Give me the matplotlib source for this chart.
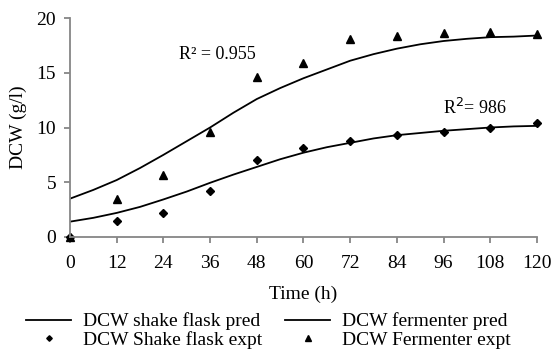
import matplotlib
matplotlib.use("Agg")
import matplotlib.pyplot as plt

plt.rcParams['font.family'] = ['Liberation Serif', 'DejaVu Serif']

# experimental points (12 h sampling)
t_expt = [0, 12, 24, 36, 48, 60, 72, 84, 96, 108, 120]
shake_expt = [0.0, 1.5, 2.2, 4.2, 7.0, 8.1, 8.8, 9.3, 9.6, 10.0, 10.4]
ferm_expt = [0.0, 3.5, 5.7, 9.6, 14.6, 15.9, 18.1, 18.4, 18.6, 18.7, 18.5]

# model curves every 6 h
t_pred = [0, 6, 12, 18, 24, 30, 36, 42, 48, 54, 60,
          66, 72, 78, 84, 90, 96, 102, 108, 114, 120]
shake_pred = [1.4, 1.75, 2.2, 2.75, 3.43, 4.15, 4.95, 5.7, 6.4, 7.1, 7.7,
              8.2, 8.6, 9.0, 9.3, 9.5, 9.7, 9.85, 10.0, 10.1, 10.15]
ferm_pred = [3.5, 4.3, 5.2, 6.3, 7.5, 8.75, 10.0, 11.35, 12.6, 13.6, 14.5,
             15.3, 16.1, 16.7, 17.2, 17.6, 17.9, 18.1, 18.25, 18.3, 18.4]

x_ticks = list(range(0, 121, 12))
y_ticks = [0, 5, 10, 15, 20]

fig = plt.figure(figsize=(5.58, 3.51), dpi=100)
ax = fig.add_axes([0.1254, 0.3248, 0.8370, 0.6239])

l1, = ax.plot(t_pred, shake_pred, color='black', lw=1.3, label='DCW shake flask pred')
m1, = ax.plot(t_expt, shake_expt, ls='none', marker='D', ms=4, color='black',
              clip_on=False, label='DCW Shake flask expt')
l2, = ax.plot(t_pred, ferm_pred, color='black', lw=1.3, label='DCW fermenter pred')
m2, = ax.plot(t_expt, ferm_expt, ls='none', marker='^', ms=5.5, color='black',
              clip_on=False, label='DCW Fermenter expt')

ax.text(38, 16.7, 'R² = 0.955', fontsize=13, ha='center', va='center')
ax.text(104, 11.8, 'R$^2$= 986', fontsize=13, ha='center', va='center')

ax.set_xlim(0, 120)
ax.set_ylim(0, 20)
ax.set_xticks(x_ticks)
ax.set_yticks(y_ticks)
for s in ['top', 'right']:
    ax.spines[s].set_visible(False)
for s in ['left', 'bottom']:
    ax.spines[s].set_color('#868686')
    ax.spines[s].set_linewidth(1.3)
ax.tick_params(axis='both', direction='out', length=4, width=1.3, color='#868686',
               labelsize=14, pad=6)
ax.tick_params(axis='x', pad=9)

ax.set_xlabel('Time (h)', fontsize=14, labelpad=10)
ax.set_ylabel('DCW (g/l)', fontsize=14)
ax.yaxis.set_label_coords(-0.092, 0.5)

fig.legend(handles=[l1, m1, l2, m2], ncol=2, loc='lower left',
           bbox_to_anchor=(0.016, -0.045), frameon=False, fontsize=14,
           handlelength=2.3, handletextpad=0.6, columnspacing=1.2,
           labelspacing=0.05, markerscale=0.7)

fig.savefig('out.png', dpi=100)
